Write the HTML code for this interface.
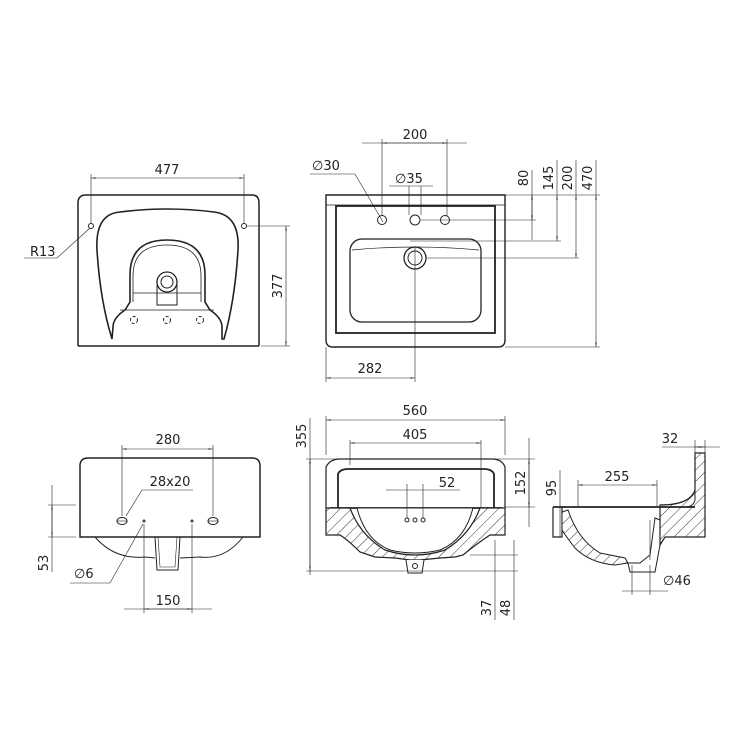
<!DOCTYPE html>
<html><head><meta charset="utf-8"><style>
html,body{margin:0;padding:0;background:#fff;}
svg{display:block;}
text{font-family:"DejaVu Sans","Liberation Sans",sans-serif;font-size:13px;fill:#222;}
</style></head><body>
<svg width="750" height="750" viewBox="0 0 750 750" xmlns="http://www.w3.org/2000/svg">
<defs>
<pattern id="h" width="8" height="8" patternUnits="userSpaceOnUse" patternTransform="rotate(45)">
<rect width="8" height="8" fill="#fff"/><line x1="0" y1="0" x2="0" y2="8" stroke="#333" stroke-width="1"/>
</pattern>
<marker id="a" viewBox="0 0 10 4" refX="10" refY="2" markerWidth="8" markerHeight="3" orient="auto-start-reverse"><path d="M0,0L10,2L0,4z" fill="#444"/></marker>
</defs>
<g fill="none" stroke="#222" stroke-width="1">

<!-- ===== Top-left view ===== -->
<path d="M78,346 L78,203 Q78,195 86,195 L252,195 Q259,195 259,203 L259,346" stroke-width="1.5"/>
<line x1="78" y1="346" x2="259" y2="346" stroke-width="1.5"/>
<path d="M112,339 Q100,300 97,250 Q95,214 120,212 Q167,206 214,212 Q240,215 238,250 Q235,300 224,339 L222,339 L222,327 Q222,318 210,310 L205,302 L205,275 Q205,240 167,240 Q130,240 130,275 L130,302 L125,310 Q113,318 113,327 Z" stroke-width="1.6"/>
<path d="M133,302 L133,276 Q133,245 167,245 Q201,245 201,276 L201,302" stroke-width="0.8"/>
<line x1="133" y1="293" x2="201" y2="293" stroke-width="0.7"/>
<line x1="120" y1="310" x2="214" y2="310" stroke-width="0.7"/>
<circle cx="167" cy="282" r="10" stroke-width="1.3"/><circle cx="167" cy="282" r="6"/>
<path d="M157,285 L157,305 L177,305 L177,285"/>
<circle cx="134" cy="320" r="3.5" stroke-dasharray="3,2"/><circle cx="167" cy="320" r="3.5" stroke-dasharray="3,2"/><circle cx="200" cy="320" r="3.5" stroke-dasharray="3,2"/>
<circle cx="91" cy="226" r="2.5"/><circle cx="244" cy="226" r="2.5"/>
<line x1="91" y1="223" x2="91" y2="174" stroke-width="0.6"/><line x1="244" y1="223" x2="244" y2="174" stroke-width="0.6"/>
<line x1="91" y1="178" x2="244" y2="178" stroke-width="0.6" marker-start="url(#a)" marker-end="url(#a)"/>
<polyline points="24,258 57,258 90,228" stroke-width="0.6"/>
<line x1="247" y1="226" x2="290" y2="226" stroke-width="0.6"/><line x1="261" y1="346" x2="290" y2="346" stroke-width="0.6"/>
<line x1="286" y1="226" x2="286" y2="346" stroke-width="0.6" marker-start="url(#a)" marker-end="url(#a)"/>

<!-- ===== Top-right view ===== -->
<path d="M326,195 L505,195 L505,340 Q505,347 498,347 L333,347 Q326,347 326,340 Z" stroke-width="1.4"/>
<rect x="336" y="206" width="159" height="127" stroke-width="1.8"/>
<line x1="326" y1="205" x2="505" y2="205" stroke-width="0.7"/>
<rect x="350" y="239" width="131" height="83" rx="12" stroke-width="1.3"/>
<path d="M352,250 Q415,244 479,250" stroke-width="0.7"/>
<circle cx="415" cy="258" r="11" stroke-width="1.3"/><circle cx="415" cy="258" r="7"/>
<circle cx="382" cy="220" r="4.5"/><circle cx="415" cy="220" r="5"/><circle cx="445" cy="220" r="4.5"/>
<line x1="382" y1="216" x2="382" y2="139" stroke-width="0.6"/><line x1="447" y1="216" x2="447" y2="139" stroke-width="0.6"/>
<line x1="362" y1="143" x2="467" y2="143" stroke-width="0.6"/>
<line x1="382" y1="143" x2="447" y2="143" stroke-width="0.6" marker-start="url(#a)" marker-end="url(#a)"/>
<polyline points="310,174 355,174 383,222" stroke-width="0.6"/>
<line x1="389" y1="186" x2="433" y2="186" stroke-width="0.6"/>
<line x1="409" y1="186" x2="409" y2="215" stroke-width="0.6"/><line x1="421" y1="186" x2="421" y2="215" stroke-width="0.6"/>
<line x1="415" y1="247" x2="415" y2="382" stroke-width="0.6"/>
<line x1="505" y1="195" x2="600" y2="195" stroke-width="0.6"/>
<line x1="421" y1="220" x2="536" y2="220" stroke-width="0.6"/>
<line x1="410" y1="241" x2="561" y2="241" stroke-width="0.6"/>
<line x1="426" y1="258" x2="579" y2="258" stroke-width="0.6"/>
<line x1="505" y1="347" x2="600" y2="347" stroke-width="0.6"/>
<line x1="532" y1="195" x2="532" y2="220" stroke-width="0.6" marker-start="url(#a)" marker-end="url(#a)"/>
<line x1="532" y1="170" x2="532" y2="240" stroke-width="0.6"/>
<line x1="557" y1="195" x2="557" y2="241" stroke-width="0.6" marker-start="url(#a)" marker-end="url(#a)"/>
<line x1="557" y1="160" x2="557" y2="195" stroke-width="0.6"/>
<line x1="576" y1="195" x2="576" y2="258" stroke-width="0.6" marker-start="url(#a)" marker-end="url(#a)"/>
<line x1="576" y1="160" x2="576" y2="195" stroke-width="0.6"/>
<line x1="596" y1="195" x2="596" y2="347" stroke-width="0.6" marker-start="url(#a)" marker-end="url(#a)"/>
<line x1="596" y1="160" x2="596" y2="195" stroke-width="0.6"/>
<line x1="326" y1="347" x2="326" y2="382" stroke-width="0.6"/>
<line x1="326" y1="378" x2="415" y2="378" stroke-width="0.6" marker-start="url(#a)" marker-end="url(#a)"/>

<!-- ===== Bottom-left view ===== -->
<path d="M80,537 L80,466 Q80,458 88,458 L252,458 Q260,458 260,466 L260,537 Z" stroke-width="1.5"/>
<path d="M95,537 Q115,560 145,557 L155,558 M180,558 L200,557 Q225,560 243,537" stroke-width="1"/>
<path d="M155,537 L157,570 L178,570 L180,537" stroke-width="1"/>
<path d="M158,537 L160,567 L175,567 L177,537" stroke-width="0.6"/>
<ellipse cx="122" cy="521" rx="5" ry="3.5"/><ellipse cx="213" cy="521" rx="5" ry="3.5"/>
<line x1="117" y1="521" x2="127" y2="521" stroke-width="0.6"/><line x1="208" y1="521" x2="218" y2="521" stroke-width="0.6"/>
<circle cx="144" cy="521" r="1"/><circle cx="192" cy="521" r="1"/>
<line x1="122" y1="516" x2="122" y2="445" stroke-width="0.6"/><line x1="213" y1="516" x2="213" y2="445" stroke-width="0.6"/>
<line x1="122" y1="449" x2="213" y2="449" stroke-width="0.6" marker-start="url(#a)" marker-end="url(#a)"/>
<polyline points="193,490 142,490 126,516" stroke-width="0.6"/>
<polyline points="70,583 110,583 143,524" stroke-width="0.6"/>
<line x1="144" y1="524" x2="144" y2="613" stroke-width="0.6"/><line x1="192" y1="524" x2="192" y2="613" stroke-width="0.6"/>
<line x1="124" y1="609" x2="212" y2="609" stroke-width="0.6"/>
<line x1="144" y1="609" x2="192" y2="609" stroke-width="0.6" marker-start="url(#a)" marker-end="url(#a)"/>
<line x1="48" y1="505" x2="76" y2="505" stroke-width="0.6"/><line x1="48" y1="537" x2="76" y2="537" stroke-width="0.6"/>
<line x1="52" y1="485" x2="52" y2="572" stroke-width="0.6"/>
<line x1="52" y1="505" x2="52" y2="537" stroke-width="0.6" marker-start="url(#a)" marker-end="url(#a)"/>

<!-- ===== Bottom-middle section ===== -->
<path d="M326,508 L326,467 Q330,459 340,459 L492,459 Q502,459 505,467 L505,508" stroke-width="1.2"/>
<path d="M338,508 L338,474 Q340,469 348,469 L484,469 Q492,469 494,474 L494,508" stroke-width="1.8"/>
<line x1="330" y1="508" x2="502" y2="508" stroke-width="1.8"/>
<path d="M326,508 L350,508 Q360,535 385,550 Q415,560 445,550 Q470,535 480,508 L505,508 L505,535 L490,535 Q475,545 463,555 L455,557 L440,558 L420,560 L410,560 L395,558 L375,557 L360,552 Q348,540 340,535 L326,535 Z" fill="url(#h)" stroke-width="1.2"/>
<path d="M357,508 Q365,540 390,550 Q415,556 440,550 Q465,540 473,508 Z" fill="#fff" stroke-width="1"/>
<path d="M406,560 L408,573 L422,573 L424,560" fill="#fff"/>
<circle cx="415" cy="566" r="2.5"/>
<circle cx="407" cy="520" r="2"/><circle cx="415" cy="520" r="2"/><circle cx="423" cy="520" r="2"/>
<line x1="326" y1="455" x2="326" y2="416" stroke-width="0.6"/><line x1="505" y1="455" x2="505" y2="416" stroke-width="0.6"/>
<line x1="326" y1="420" x2="505" y2="420" stroke-width="0.6" marker-start="url(#a)" marker-end="url(#a)"/>
<line x1="350" y1="465" x2="350" y2="440" stroke-width="0.6"/><line x1="481" y1="508" x2="481" y2="440" stroke-width="0.6"/>
<line x1="350" y1="443" x2="481" y2="443" stroke-width="0.6" marker-start="url(#a)" marker-end="url(#a)"/>
<line x1="407" y1="484" x2="407" y2="518" stroke-width="0.6"/><line x1="423" y1="484" x2="423" y2="518" stroke-width="0.6"/>
<line x1="386" y1="490" x2="460" y2="490" stroke-width="0.6"/>
<line x1="306" y1="459" x2="535" y2="459" stroke-width="0.6"/>
<line x1="505" y1="507" x2="535" y2="507" stroke-width="0.6"/>
<line x1="310" y1="418" x2="310" y2="575" stroke-width="0.6"/>
<line x1="310" y1="459" x2="310" y2="571" stroke-width="0.6" marker-start="url(#a)" marker-end="url(#a)"/>
<line x1="306" y1="571" x2="518" y2="571" stroke-width="0.6"/>
<line x1="470" y1="555" x2="518" y2="555" stroke-width="0.6"/>
<line x1="529" y1="438" x2="529" y2="527" stroke-width="0.6"/>
<line x1="529" y1="459" x2="529" y2="507" stroke-width="0.6" marker-start="url(#a)" marker-end="url(#a)"/>
<line x1="495" y1="540" x2="495" y2="620" stroke-width="0.6"/><line x1="514" y1="540" x2="514" y2="620" stroke-width="0.6"/>

<!-- ===== Right section ===== -->
<path d="M695,453 L705,453 L705,537 L665,537 L660,545 L660,505 Q690,505 695,490 Z" fill="url(#h)" stroke-width="1.2"/>
<line x1="553" y1="507" x2="695" y2="507" stroke-width="1.8"/>
<path d="M695,453 L695,500 Q693,507 685,507" stroke-width="1"/>
<path d="M553,507 L553,537 L562,537 L562,507" stroke-width="1.2"/>
<path d="M562,512 L568,510 Q578,540 600,553 L625,558 L628,563 L615,565 Q590,563 575,548 Q565,535 562,530 Z" fill="url(#h)" stroke-width="1"/>
<path d="M628,563 L630,572 L655,572 L660,545 L660,520 L655,518 L650,555 L640,563 Z" stroke-width="1"/>
<line x1="650" y1="520" x2="650" y2="560" stroke-width="0.6"/>
<line x1="662" y1="447" x2="720" y2="447" stroke-width="0.6"/>
<line x1="695" y1="447" x2="705" y2="447" stroke-width="0.6" marker-start="url(#a)" marker-end="url(#a)"/>
<line x1="695" y1="440" x2="695" y2="453" stroke-width="0.6"/><line x1="705" y1="440" x2="705" y2="453" stroke-width="0.6"/>
<line x1="578" y1="480" x2="578" y2="507" stroke-width="0.6"/><line x1="657" y1="480" x2="657" y2="507" stroke-width="0.6"/>
<line x1="578" y1="485" x2="657" y2="485" stroke-width="0.6" marker-start="url(#a)" marker-end="url(#a)"/>
<line x1="560" y1="470" x2="560" y2="537" stroke-width="0.6"/>
<line x1="622" y1="591" x2="668" y2="591" stroke-width="0.6"/>
<line x1="632" y1="565" x2="632" y2="595" stroke-width="0.6"/><line x1="650" y1="565" x2="650" y2="595" stroke-width="0.6"/>
</g>

<g>
<text x="167" y="174" text-anchor="middle">477</text>
<text x="30" y="256">R13</text>
<text transform="translate(282,286) rotate(-90)" text-anchor="middle">377</text>
<text x="415" y="139" text-anchor="middle">200</text>
<text x="312" y="170">∅30</text>
<text x="395" y="183">∅35</text>
<text transform="translate(528,178) rotate(-90)" text-anchor="middle">80</text>
<text transform="translate(553,178) rotate(-90)" text-anchor="middle">145</text>
<text transform="translate(572,178) rotate(-90)" text-anchor="middle">200</text>
<text transform="translate(592,178) rotate(-90)" text-anchor="middle">470</text>
<text x="370" y="373" text-anchor="middle">282</text>
<text x="168" y="444" text-anchor="middle">280</text>
<text x="170" y="486" text-anchor="middle">28x20</text>
<text x="74" y="578">∅6</text>
<text x="168" y="605" text-anchor="middle">150</text>
<text transform="translate(48,563) rotate(-90)" text-anchor="middle">53</text>
<text x="415" y="415" text-anchor="middle">560</text>
<text x="415" y="439" text-anchor="middle">405</text>
<text x="447" y="487" text-anchor="middle">52</text>
<text transform="translate(306,436) rotate(-90)" text-anchor="middle">355</text>
<text transform="translate(525,483) rotate(-90)" text-anchor="middle">152</text>
<text transform="translate(491,608) rotate(-90)" text-anchor="middle">37</text>
<text transform="translate(510,608) rotate(-90)" text-anchor="middle">48</text>
<text x="670" y="443" text-anchor="middle">32</text>
<text x="617" y="481" text-anchor="middle">255</text>
<text transform="translate(556,488) rotate(-90)" text-anchor="middle">95</text>
<text x="663" y="585">∅46</text>
</g>
</svg>
</body></html>
